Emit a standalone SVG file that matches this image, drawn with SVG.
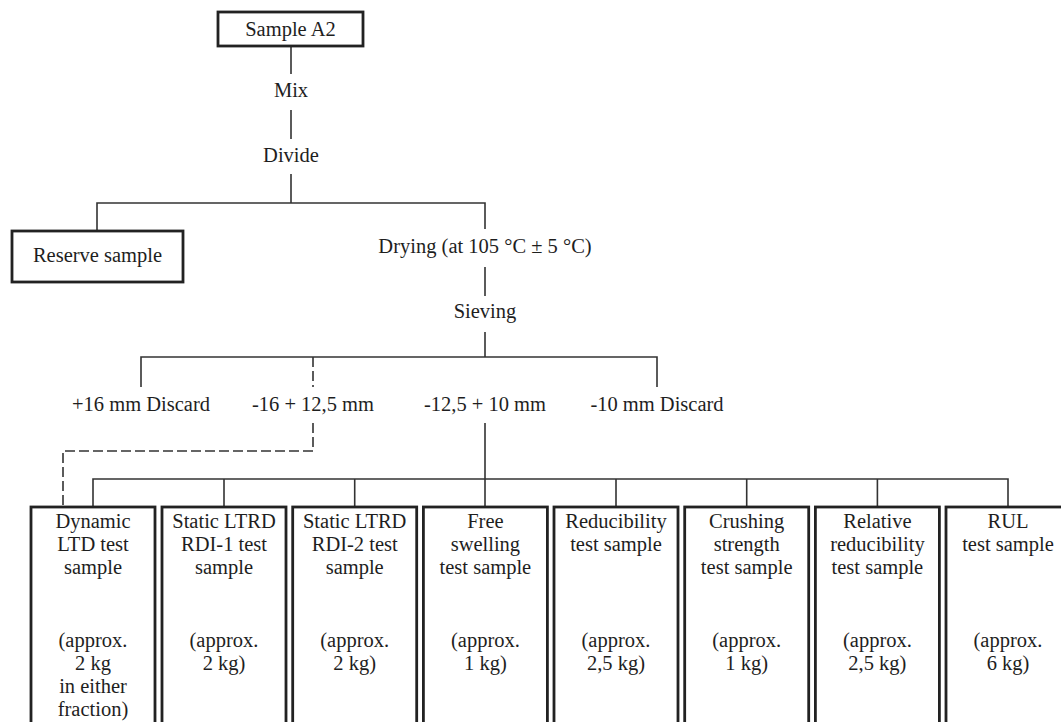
<svg xmlns="http://www.w3.org/2000/svg" width="1061" height="722" viewBox="0 0 1061 722">
  <style>
    text { font-family: "Liberation Serif", "Times New Roman", serif; font-size: 20.5px; fill: #1e1e1e; text-anchor: middle; }
    .box { fill: #fff; stroke: #222; stroke-width: 2.8; }
    .wire { fill: none; stroke: #333; stroke-width: 1.6; }
    .dash { stroke-dasharray: 10 4; }
  </style>
  <rect width="1061" height="722" fill="#fff"/>

  <!-- connectors -->
  <g id="connectors">
    <path class="wire" d="M291 46V74M291 110V139M291 174V203"/>
    <path class="wire" d="M97 231V203H485V229"/>
    <path class="wire" d="M485 267V296M485 332V357"/>
    <path class="wire" d="M141 387V357H657V387M485 423V507"/>
    <path class="wire dash" d="M313 357V387M313 423V451H63V507"/>
    <path class="wire" d="M93 507V479H1008V507M224 479V507M354.7 479V507M616 479V507M746.7 479V507M877.4 479V507"/>
  </g>

  <!-- top chain -->
  <g id="sample-a2">
    <rect class="box" x="218" y="12" width="145" height="34"/>
    <text x="290.5" y="36">Sample A2</text>
  </g>
  <g id="mix"><text x="291" y="97">Mix</text></g>
  <g id="divide"><text x="291" y="162">Divide</text></g>
  <g id="reserve">
    <rect class="box" x="12" y="231" width="171" height="51"/>
    <text x="97.5" y="262">Reserve sample</text>
  </g>
  <g id="drying"><text x="485" y="253">Drying (at 105 °C ± 5 °C)</text></g>
  <g id="sieving"><text x="485" y="318">Sieving</text></g>

  <!-- size fractions -->
  <g id="frac-plus16"><text x="141" y="411">+16 mm Discard</text></g>
  <g id="frac-16-12"><text x="313" y="411">-16 + 12,5 mm</text></g>
  <g id="frac-12-10"><text x="485" y="411">-12,5 + 10 mm</text></g>
  <g id="frac-minus10"><text x="657" y="411">-10 mm Discard</text></g>

  <!-- test samples -->
  <g id="dynamic-ltd">
    <rect class="box" x="31" y="507" width="124" height="230"/>
    <text x="93" y="528">Dynamic</text>
    <text x="93" y="551">LTD test</text>
    <text x="93" y="574">sample</text>
    <text x="93" y="647">(approx.</text>
    <text x="93" y="670">2 kg</text>
    <text x="93" y="693">in either</text>
    <text x="93" y="716">fraction)</text>
  </g>
  <g id="static-rdi1">
    <rect class="box" x="162" y="507" width="124" height="230"/>
    <text x="224" y="528">Static LTRD</text>
    <text x="224" y="551">RDI-1 test</text>
    <text x="224" y="574">sample</text>
    <text x="224" y="647">(approx.</text>
    <text x="224" y="670">2 kg)</text>
  </g>
  <g id="static-rdi2">
    <rect class="box" x="292.7" y="507" width="124" height="230"/>
    <text x="354.7" y="528">Static LTRD</text>
    <text x="354.7" y="551">RDI-2 test</text>
    <text x="354.7" y="574">sample</text>
    <text x="354.7" y="647">(approx.</text>
    <text x="354.7" y="670">2 kg)</text>
  </g>
  <g id="free-swelling">
    <rect class="box" x="423.4" y="507" width="124" height="230"/>
    <text x="485.4" y="528">Free</text>
    <text x="485.4" y="551">swelling</text>
    <text x="485.4" y="574">test sample</text>
    <text x="485.4" y="647">(approx.</text>
    <text x="485.4" y="670">1 kg)</text>
  </g>
  <g id="reducibility">
    <rect class="box" x="554" y="507" width="124" height="230"/>
    <text x="616" y="528">Reducibility</text>
    <text x="616" y="551">test sample</text>
    <text x="616" y="647">(approx.</text>
    <text x="616" y="670">2,5 kg)</text>
  </g>
  <g id="crushing">
    <rect class="box" x="684.7" y="507" width="124" height="230"/>
    <text x="746.7" y="528">Crushing</text>
    <text x="746.7" y="551">strength</text>
    <text x="746.7" y="574">test sample</text>
    <text x="746.7" y="647">(approx.</text>
    <text x="746.7" y="670">1 kg)</text>
  </g>
  <g id="relative-reducibility">
    <rect class="box" x="815.4" y="507" width="124" height="230"/>
    <text x="877.4" y="528">Relative</text>
    <text x="877.4" y="551">reducibility</text>
    <text x="877.4" y="574">test sample</text>
    <text x="877.4" y="647">(approx.</text>
    <text x="877.4" y="670">2,5 kg)</text>
  </g>
  <g id="rul">
    <rect class="box" x="946" y="507" width="124" height="230"/>
    <text x="1008" y="528">RUL</text>
    <text x="1008" y="551">test sample</text>
    <text x="1008" y="647">(approx.</text>
    <text x="1008" y="670">6 kg)</text>
  </g>
</svg>
